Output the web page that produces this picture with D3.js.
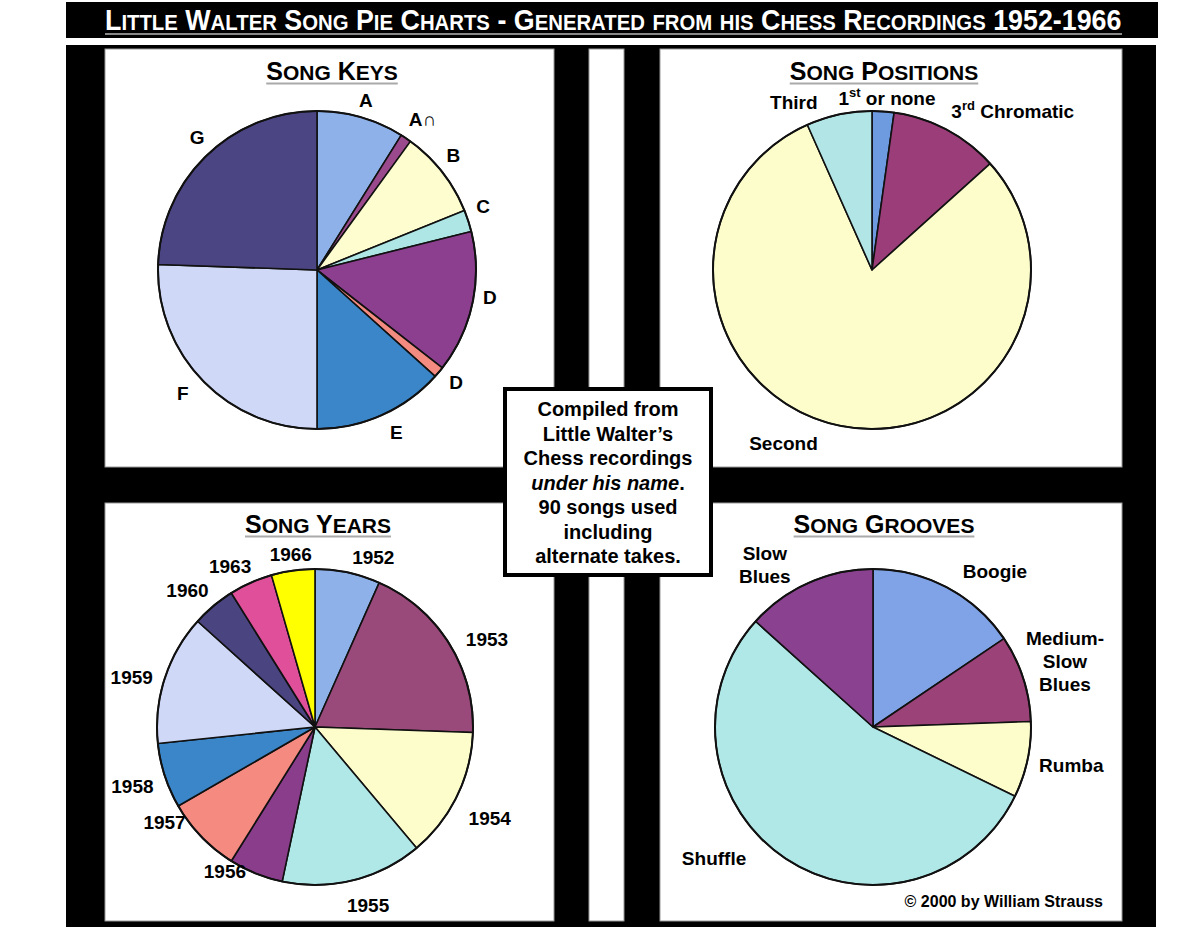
<!DOCTYPE html>
<html>
<head>
<meta charset="utf-8">
<script src="https://cdn.jsdelivr.net/npm/d3@7"></script>
<style>
  body { margin: 0; background: #fff; }
  text { font-family: "Liberation Sans", Arial, sans-serif; font-weight: bold; }
</style>
</head>
<body>
<div id="chart"></div>
<script>
// values: songs per slice (90 songs total)
const keyLabels = ["A", "A∩", "B", "C", "D", "D", "E", "F", "G"];
const keySongs = [8, 1, 8, 2, 13, 1, 12, 23, 22];

const positionLabels = ["1^st^ or none", "3^rd^ Chromatic", "Second", "Third"];
const positionSongs = [2, 10, 72, 6];

const yearLabels = ["1952", "1953", "1954", "1955", "1956", "1957", "1958", "1959", "1960", "1963", "1966"];
const yearSongs = [6, 17, 12, 13, 5, 7, 6, 12, 4, 4, 4];

const grooveLabels = ["Boogie", "Medium-\nSlow\nBlues", "Rumba", "Shuffle", "Slow\nBlues"];
const grooveSongs = [14, 8, 7, 49, 12];

// colours
const keyColors = ["#8db1e8", "#9a4a8c", "#fdfdcf", "#aee6e6", "#8c3f8e", "#f38b80", "#3b86c9", "#cfd9f7", "#4b4683"];
const positionColors = ["#6e9ae0", "#9a3d78", "#fdfdcc", "#b2e6e6"];
const yearColors = ["#8db1e8", "#9a4a7a", "#fdfdcc", "#b0e8e8", "#8a3d8a", "#f48a80", "#3a86c8", "#d0d8f8", "#4a4580", "#e0509a", "#ffff00"];
const grooveColors = ["#7fa3e6", "#9b4379", "#fdfdcc", "#b0e7e7", "#8a4190"];

// label placement: angle nudge (deg) off the slice middle, distance from centre
const keyNudge = [0, 1, -2, -3, -3, -1, -2, 1.5, 2], keyDist = [177, 184, 178, 178, 175, 179, 181, 182, 179];
const positionNudge = [1, 13.6, 15, -13], positionDist = [172, 212, 195, 185];
const yearNudge = [7, 5, 1.5, -2.6, 10, 11.7, 0, -2.7, -3, -3.8, 0], yearDist = [179, 193, 197, 186, 170, 178, 192, 190, 187, 182, 174];
const grooveNudge = [10, -1, -1, 16.5, -9.7], grooveDist = [198, 203, 202, 206, 195];

const width = 1200, height = 934;
const svg = d3.select("#chart").append("svg")
  .attr("width", width)
  .attr("height", height);

// small caps helper: capitals/digits big, lower case shrunk to caps
function smallCaps(sel, str, big, small) {
  const parts = [];
  for (const ch of str) {
    const isSmall = ch !== ch.toUpperCase();
    const size = isSmall ? small : big;
    if (parts.length && parts[parts.length - 1].size === size) parts[parts.length - 1].t += ch.toUpperCase();
    else parts.push({ t: ch.toUpperCase(), size });
  }
  parts.forEach(p => sel.append("tspan").attr("font-size", p.size).text(p.t));
  return sel;
}

// frame
svg.append("rect").attr("x", 66).attr("y", 2).attr("width", 1092).attr("height", 36).attr("fill", "#000");
svg.append("rect").attr("x", 66).attr("y", 45).attr("width", 1090).attr("height", 882).attr("fill", "#000");

const panels = [
  { x: 105, y: 49, w: 449, h: 418 },
  { x: 660, y: 49, w: 462, h: 418 },
  { x: 105, y: 503, w: 449, h: 418 },
  { x: 660, y: 503, w: 462, h: 418 },
  { x: 589, y: 49, w: 35, h: 872 }
];
svg.selectAll(".panel").data(panels).enter().append("rect")
  .attr("class", "panel")
  .attr("x", d => d.x).attr("y", d => d.y)
  .attr("width", d => d.w).attr("height", d => d.h)
  .attr("fill", "#fff").attr("stroke", "#999").attr("stroke-width", 1);

// main title, squeezed horizontally to look condensed
const titleG = svg.append("g");
const mainTitle = titleG.append("text")
  .attr("x", 0).attr("y", 0)
  .attr("fill", "#fff");
smallCaps(mainTitle, "Little Walter Song Pie Charts - Generated from his Chess Recordings 1952-1966", 29, 22);
const natural = mainTitle.node().getComputedTextLength();
titleG.attr("transform", `translate(105,30) scale(${1017 / natural},1)`);
svg.append("line").attr("x1", 105).attr("x2", 1122).attr("y1", 34).attr("y2", 34)
  .attr("stroke", "#888").attr("stroke-width", 2);

function panelTitle(str, cx, y) {
  const t = svg.append("text").attr("x", cx).attr("y", y).attr("text-anchor", "middle").attr("fill", "#000");
  smallCaps(t, str, 25, 21);
  const w = t.node().getComputedTextLength();
  svg.append("line").attr("x1", cx - w / 2).attr("x2", cx + w / 2).attr("y1", y + 3.5).attr("y2", y + 3.5)
    .attr("stroke", "#aaa").attr("stroke-width", 2);
}

function drawLabel(g, str, x, y) {
  const lines = str.split("\n");
  const fs = 19, lh = 23;
  const y0 = y - (lines.length - 1) * lh / 2 + fs * 0.35;
  lines.forEach((line, i) => {
    const t = g.append("text").attr("x", x).attr("y", y0 + i * lh)
      .attr("text-anchor", "middle").attr("font-size", fs).attr("fill", "#000");
    let raised = false;
    line.split("^").forEach((b, j) => {
      if (!b) return;
      if (j % 2 === 1) {
        t.append("tspan").attr("font-size", 13).attr("dy", -8).text(b);
        raised = true;
      } else {
        const s = t.append("tspan").text(b);
        if (raised) { s.attr("dy", 8); raised = false; }
      }
    });
  });
}

function drawPie(cx, cy, r, labels, values, colors, nudge, dist) {
  const g = svg.append("g").attr("transform", `translate(${cx},${cy})`);
  const pie = d3.pie().sort(null).value(d => d)(values);
  const arc = d3.arc().innerRadius(0).outerRadius(r);
  g.selectAll("path").data(pie).enter().append("path")
    .attr("d", arc)
    .attr("fill", (d, i) => colors[i])
    .attr("stroke", "#111").attr("stroke-width", 1.6).attr("stroke-linejoin", "round");
  g.append("circle").attr("r", r).attr("fill", "none").attr("stroke", "#111").attr("stroke-width", 2);
  pie.forEach((d, i) => {
    const a = (d.startAngle + d.endAngle) / 2 + nudge[i] * Math.PI / 180;
    drawLabel(g, labels[i], Math.sin(a) * dist[i], -Math.cos(a) * dist[i]);
  });
}

panelTitle("Song Keys", 332, 80);
panelTitle("Song Positions", 884, 80);
panelTitle("Song Years", 318, 533);
panelTitle("Song Grooves", 884, 533);

drawPie(317, 270, 159, keyLabels, keySongs, keyColors, keyNudge, keyDist);
drawPie(872, 270, 159, positionLabels, positionSongs, positionColors, positionNudge, positionDist);
drawPie(315, 727, 158, yearLabels, yearSongs, yearColors, yearNudge, yearDist);
drawPie(873, 727, 158, grooveLabels, grooveSongs, grooveColors, grooveNudge, grooveDist);

// centre note
svg.append("rect").attr("x", 505).attr("y", 389).attr("width", 206).attr("height", 186)
  .attr("fill", "#fff").attr("stroke", "#000").attr("stroke-width", 4);
const noteLines = ["Compiled from", "Little Walter\u2019s", "Chess recordings", "*under his name*.", "90 songs used", "including", "alternate takes."];
noteLines.forEach((line, i) => {
  const t = svg.append("text").attr("x", 608).attr("y", 416 + i * 24.5)
    .attr("text-anchor", "middle").attr("font-size", 20).attr("fill", "#000");
  line.split("*").forEach((b, j) => {
    if (!b) return;
    t.append("tspan").style("font-style", j % 2 ? "italic" : "normal").text(b);
  });
});

svg.append("text").attr("x", 1103).attr("y", 907).attr("text-anchor", "end")
  .attr("font-size", 16).attr("fill", "#000").text("\u00a9 2000 by William Strauss");
</script>
</body>
</html>
